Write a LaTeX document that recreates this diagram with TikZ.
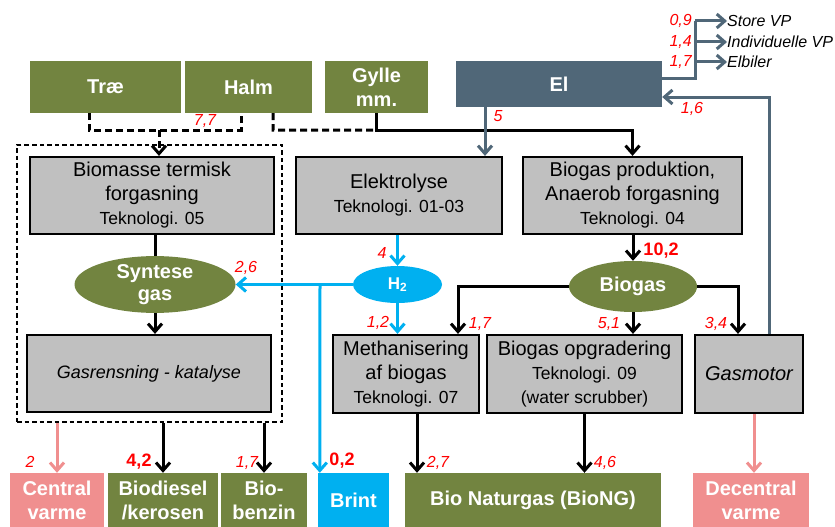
\documentclass[tikz,border=0pt]{standalone}
\usepackage{fontspec}
\setmainfont{Liberation Sans}
\usetikzlibrary{arrows.meta,shapes.geometric,calc}
\definecolor{olive}{RGB}{114,132,64}
\definecolor{slate}{RGB}{80,103,120}
\definecolor{hcyan}{RGB}{0,176,240}
\definecolor{pinkc}{RGB}{240,143,143}
\definecolor{boxgray}{RGB}{192,192,192}
\newcommand{\tek}{\fontsize{17.5}{21}\selectfont}
\begin{document}
\begin{tikzpicture}[x=1pt,y=-1pt,
  greenbox/.style={fill=olive, text=white, font=\bfseries\fontsize{20}{24}\selectfont, align=center, inner sep=0pt},
  elbox/.style={fill=slate, text=white, font=\bfseries\fontsize{20}{24}\selectfont, align=center, inner sep=0pt},
  cyanbox/.style={fill=hcyan, text=white, font=\bfseries\fontsize{20}{24}\selectfont, align=center, inner sep=0pt},
  pinkbox/.style={fill=pinkc, text=white, font=\bfseries\fontsize{20}{24}\selectfont, align=center, inner sep=0pt},
  graybox/.style={fill=boxgray, draw=black, line width=2.2pt, align=center, inner sep=0pt, font=\fontsize{20}{24}\selectfont},
  ell/.style={ellipse, fill=#1, text=white, inner sep=0pt, align=center, font=\bfseries\fontsize{20}{22}\selectfont},
  container/.style={draw=black, line width=2pt, dash pattern=on 4.5pt off 3pt, inner sep=0pt},
  lbl/.style={text=red, font=\itshape\fontsize{16}{19}\selectfont, inner sep=0pt},
  lblb/.style={text=red, font=\bfseries\fontsize{18}{21}\selectfont, inner sep=0pt},
  outtxt/.style={font=\itshape\fontsize{16}{19}\selectfont, inner sep=0pt, anchor=west},
  flow/.style={draw=black, line width=3pt},
  dashl/.style={draw=black, line width=3pt, dash pattern=on 7pt off 4pt},
  elline/.style={draw=slate, line width=3pt},
  cyanl/.style={draw=hcyan, line width=3pt},
  pinkl/.style={draw=pinkc, line width=3pt},
  arr/.style={-{Straight Barb[length=8pt,width=14pt]}}
]
\useasboundingbox (0,0) rectangle (835,527);

% dashed container
\node[container, minimum width=265pt, minimum height=277pt] (cont) at (149.5,283.5) {};

% top row
\node[greenbox, minimum width=151pt, minimum height=52pt] (trae) at (105.5,87) {Træ};
\node[greenbox, minimum width=127pt, minimum height=52pt] (halm) at (248.5,87) {Halm};
\node[greenbox, minimum width=103pt, minimum height=52pt] (gylle) at (376.5,87) {Gylle\\mm.};
\node[elbox, minimum width=206pt, minimum height=46pt] (el) at (559,84) {El};

% outputs of El
\node[outtxt] (storevp) at (727,21) {Store VP};
\node[outtxt] (indvp) at (727,42) {Individuelle VP};
\node[outtxt] (elbiler) at (727,62) {Elbiler};

% process boxes
\node[graybox, minimum width=244pt, minimum height=77pt] (biomasse) at (152,195.5) {Biomasse termisk\\forgasning\\{\tek Teknologi. 05}};
\node[graybox, minimum width=206pt, minimum height=77pt] (elek) at (399,195.5) {Elektrolyse\\{\tek Teknologi. 01-03}};
\node[graybox, minimum width=219pt, minimum height=77pt] (bprod) at (632.5,195.5) {Biogas produktion,\\Anaerob forgasning\\{\tek Teknologi. 04}};

\node[ell=olive, minimum width=161pt, minimum height=47pt] (syn) at (155,284.5) {Syntese\\gas};
\node[ell=hcyan, minimum width=89pt, minimum height=37pt, font=\bfseries\fontsize{17}{20}\selectfont] (h2) at (397.5,284.5) {H\textsubscript{2}};
\node[ell=olive, minimum width=128pt, minimum height=51pt] (bgas) at (633,286.5) {Biogas};

\node[graybox, minimum width=244pt, minimum height=77pt, font=\itshape\fontsize{18}{22}\selectfont] (gasr) at (149,373.5) {Gasrensning - katalyse};
\node[graybox, minimum width=146pt, minimum height=78pt] (meth) at (406,374) {Methanisering\\af biogas\\{\tek Teknologi. 07}};
\node[graybox, minimum width=195pt, minimum height=78pt] (bopg) at (584.5,374) {Biogas opgradering\\{\tek Teknologi. 09}\\{\tek (water scrubber)}};
\node[graybox, minimum width=108pt, minimum height=78pt, font=\itshape\fontsize{20}{24}\selectfont] (gasm) at (749,374) {Gasmotor};

% bottom row
\node[pinkbox, minimum width=94pt, minimum height=54pt] (central) at (57,500) {Central\\varme};
\node[greenbox, minimum width=110pt, minimum height=54pt] (biodiesel) at (163,500) {Biodiesel\\/kerosen};
\node[greenbox, minimum width=86pt, minimum height=54pt] (biobenzin) at (264,500) {Bio-\\benzin};
\node[cyanbox, minimum width=71pt, minimum height=54pt] (brint) at (353.5,500) {Brint};
\node[greenbox, minimum width=256pt, minimum height=54pt] (bng) at (533,500) {Bio Naturgas (BioNG)};
\node[pinkbox, minimum width=116pt, minimum height=54pt] (decentral) at (751,500) {Decentral\\varme};

% feed lines
\draw[dashl] ([xshift=-16.5pt]trae.south) -- ++(0,17) -| ([xshift=-7.5pt]halm.south);
\coordinate (thmid) at (159,130);
\draw[dashl, arr] (thmid) -- (thmid |- biomasse.north);
\draw[dashl] ([xshift=24.5pt]halm.south) -- ++(0,17) -- (gylle.south |- thmid);
\draw[flow, arr] (gylle.south) -- ++(0,17) -| (bprod.north);

% El lines
\draw[elline, arr] ([xshift=-74pt]el.south) -- ([xshift=86pt]elek.north);
\coordinate (bus) at (695,21);
\draw[elline] ([yshift=6pt]el.east) -| (bus);
\draw[elline, arr] (bus) -- (storevp.west);
\draw[elline, arr] (bus |- indvp.west) -- (indvp.west);
\draw[elline, arr] (bus |- elbiler.west) -- (elbiler.west);
\draw[elline, arr] ([xshift=20pt]gasm.north) |- ([yshift=-13pt]el.east);

% left column
\draw[flow] (biomasse.south -| syn.north) -- (syn.north);
\draw[flow, arr] (syn.south) -- (syn.south |- gasr.north);

% hydrogen
\draw[cyanl, arr] (elek.south -| h2.north) -- (h2.north);
\draw[cyanl, arr] (h2.west) -- (syn.east);
\coordinate (hb) at (320,284.5);
\draw[cyanl, arr] (hb) -- ([xshift=2pt]brint.north west);
\draw[cyanl, arr] (h2.south) -- (h2.south |- meth.north);

% biogas
\draw[flow, arr] (bprod.south -| bgas.north) -- (bgas.north);
\draw[flow, arr] (bgas.west) -| ([xshift=52pt]meth.north);
\draw[flow, arr] (bgas.south) -- (bgas.south |- bopg.north);
\draw[flow, arr] (bgas.east) -| ([xshift=-11pt]gasm.north);

% to products
\draw[pinkl, arr] (cont.south -| central.north) -- (central.north);
\draw[flow, arr] (cont.south -| biodiesel.north) -- (biodiesel.north);
\draw[flow, arr] (cont.south -| biobenzin.north) -- (biobenzin.north);
\draw[flow, arr] ([xshift=11pt]meth.south) -- ([xshift=11pt]meth.south |- bng.north);
\draw[flow, arr] (bopg.south) -- (bopg.south |- bng.north);
\draw[pinkl, arr] ([xshift=5pt]gasm.south) -- ([xshift=5pt]gasm.south |- decentral.north);

% labels
\node[lbl] (l77) at (205,121) {7,7};
\node[lbl] (l5) at (498,116) {5};
\node[lbl, anchor=east] (l09) at (692,21) {0,9};
\node[lbl, anchor=east] (l14) at (692,42) {1,4};
\node[lbl, anchor=east] (l17e) at (692,62) {1,7};
\node[lbl] (l16) at (692,109) {1,6};
\node[lbl] (l26) at (246,268) {2,6};
\node[lbl] (l4) at (382,253) {4};
\node[lbl] (l12) at (378,323) {1,2};
\node[lblb] (l102) at (661,251) {10,2};
\node[lbl] (l17b) at (480,324) {1,7};
\node[lbl] (l51) at (609,324) {5,1};
\node[lbl] (l34) at (716,324) {3,4};
\node[lbl] (l2) at (30,462) {2};
\node[lblb] (l42) at (139,462) {4,2};
\node[lbl] (l17c) at (247,463) {1,7};
\node[lblb] (l02) at (342,461) {0,2};
\node[lbl] (l27) at (438,463) {2,7};
\node[lbl] (l46) at (605,463) {4,6};
\end{tikzpicture}
\end{document}
